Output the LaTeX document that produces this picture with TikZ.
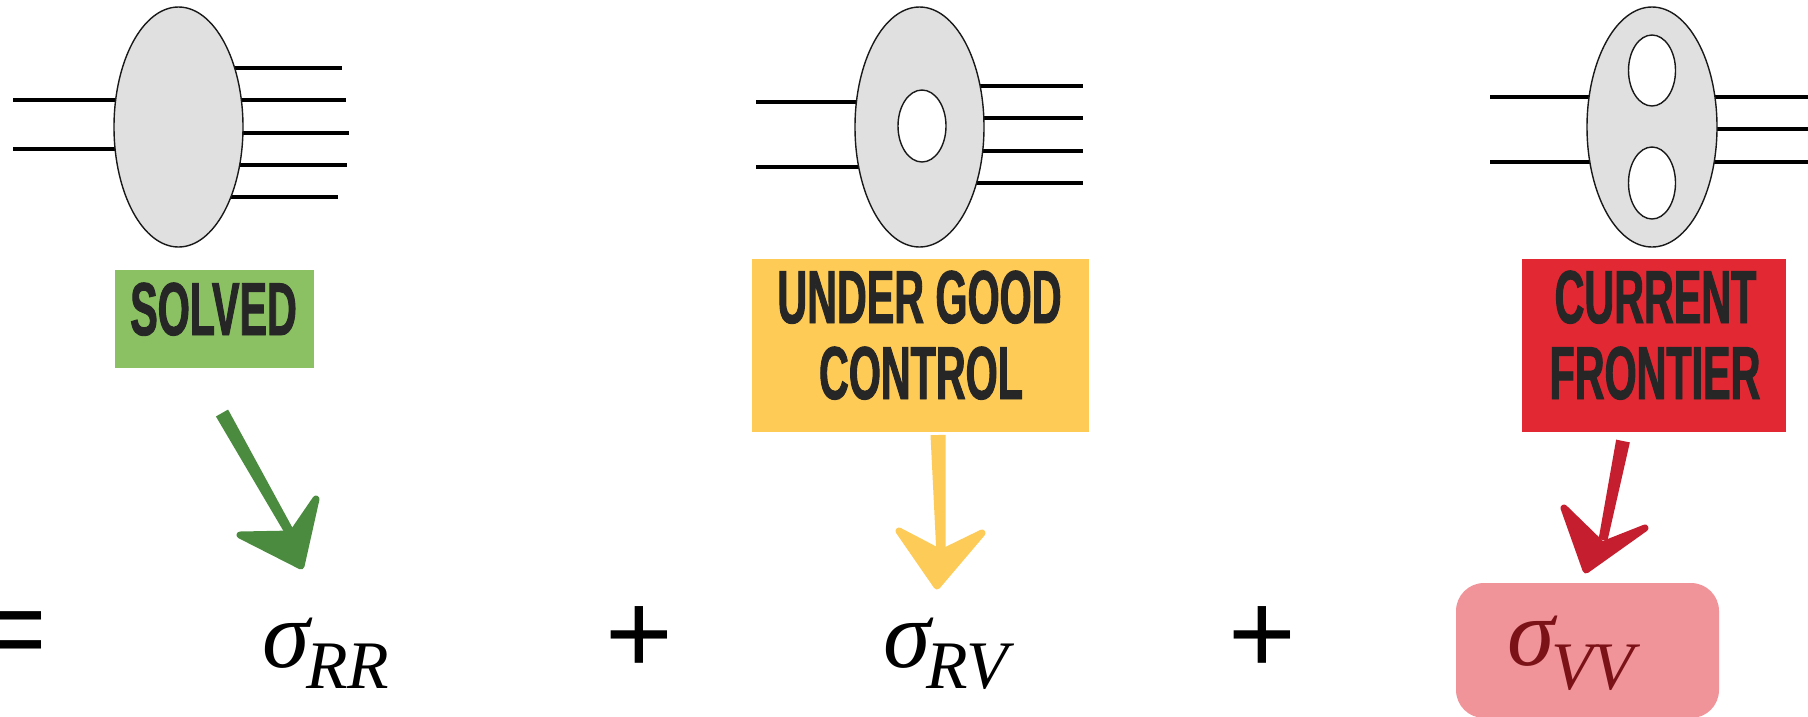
\documentclass[tikz,border=0pt]{standalone}
\usepackage{fontspec}
\setmainfont{Liberation Serif}
\newfontfamily\lblfont{Liberation Sans}[FakeStretch=0.55, FakeBold=1.2]
\newfontfamily\opfont{Liberation Sans}
\usetikzlibrary{shapes.geometric, calc}
\pgfdeclarelayer{bg}
\pgfsetlayers{bg,main}
\definecolor{blobgray}{HTML}{E0E0E0}
\definecolor{tgreen}{HTML}{8BC063}
\definecolor{tyellow}{HTML}{FECB57}
\definecolor{tred}{HTML}{E12833}
\definecolor{agreen}{HTML}{4A8B3F}
\definecolor{ayellow}{HTML}{FDCB57}
\definecolor{ared}{HTML}{C41E2F}
\definecolor{pinkbox}{HTML}{F19499}
\definecolor{darkred}{HTML}{7B1218}
\definecolor{lbltext}{HTML}{262626}
\tikzset{
  wire/.style={line width=3.8pt},
  blob/.style={ellipse, draw=black!90, line width=1.4pt, fill=blobgray, inner sep=0pt, minimum width=129pt, minimum height=240pt},
  hole/.style={ellipse, draw=black!90, line width=1.4pt, fill=white, inner sep=0pt},
  tagbox/.style={rectangle, inner sep=0pt},
  lbl/.style={font=\lblfont\bfseries\fontsize{75}{75}\selectfont, text=lbltext, anchor=base, inner sep=0pt},
  sig/.style={font=\itshape\fontsize{96}{96}\selectfont, anchor=base west, inner sep=0pt},
  subsc/.style={font=\itshape\fontsize{68}{68}\selectfont, anchor=base west, inner sep=0pt},
  op/.style={font=\opfont\fontsize{116}{116}\selectfont, inner sep=0pt},
  arrowhead/.style={line width=7pt, line join=round, line cap=round},
}
\begin{document}
\begin{tikzpicture}[x=1pt, y=-1pt]
\useasboundingbox (0,0) rectangle (1808,716);

% ---- blobs ----
\node[blob] (b1) at (178.5,127) {};
\node[blob] (b2) at (919.5,127) {};
\node[hole, minimum width=48pt, minimum height=72pt] (h2) at (922,126) {};
\node[blob, minimum width=130pt] (b3) at (1652,127) {};
\node[hole, minimum width=47pt, minimum height=71pt] (h3a) at (1652,70.5) {};
\node[hole, minimum width=47pt, minimum height=72pt] (h3b) at (1652,183) {};

\begin{pgfonlayer}{bg}
  % blob 1
  \draw[wire] (b1.center |- 0,100) -- (13,100);
  \draw[wire] (b1.center |- 0,149) -- (13,149);
  \draw[wire] (b1.center |- 0,68) -- (342,68);
  \draw[wire] (b1.center |- 0,100) -- (346,100);
  \draw[wire] (b1.center |- 0,133) -- (349,133);
  \draw[wire] (b1.center |- 0,165) -- (347,165);
  \draw[wire] (b1.center |- 0,197) -- (338,197);
  % blob 2
  \draw[wire] (b2.center |- 0,102) -- (756,102);
  \draw[wire] (b2.center |- 0,167) -- (756,167);
  \draw[wire] (b2.center |- 0,86) -- (1083,86);
  \draw[wire] (b2.center |- 0,118) -- (1083,118);
  \draw[wire] (b2.center |- 0,151) -- (1083,151);
  \draw[wire] (b2.center |- 0,183) -- (1083,183);
  % blob 3
  \draw[wire] (b3.center |- 0,97) -- (1490,97);
  \draw[wire] (b3.center |- 0,162) -- (1490,162);
  \draw[wire] (b3.center |- 0,97) -- (1815,97);
  \draw[wire] (b3.center |- 0,129) -- (1815,129);
  \draw[wire] (b3.center |- 0,162) -- (1815,162);
\end{pgfonlayer}

% ---- tags ----
\node[tagbox, fill=tgreen, minimum width=199pt, minimum height=98pt] (t1) at (214.5,319) {};
\node[tagbox, fill=tyellow, minimum width=337pt, minimum height=173pt] (t2) at (920.5,345.5) {};
\node[tagbox, fill=tred, minimum width=264pt, minimum height=173pt] (t3) at (1654,345.5) {};
\node[lbl] (l1) at (213.5,335) {SOLVED};
\node[lbl] (l2a) at (919.5,323) {UNDER GOOD};
\node[lbl] (l2b) at (921,399) {CONTROL};
\node[lbl] (l3a) at (1655.5,323) {CURRENT};
\node[lbl] (l3b) at (1655,399) {FRONTIER};

% ---- bottom row ----
\node[op] (eq) at (13,640) {=};
\node[op] (p1) at (639,640.5) {+};
\node[op] (p2) at (1262,640.5) {+};

\node[sig] (sRR) at (262,667) {σ};
\node[subsc] (sRRs) at (306,688) {RR};
\node[sig] (sRV) at (883,667) {σ};
\node[subsc] (sRVs) at (926,688) {RV};
\node[rectangle, rounded corners=28pt, fill=pinkbox, minimum width=263pt, minimum height=135pt, inner sep=0pt] (vv) at (1587.5,650.5) {};
\node[sig, text=darkred] (sVV) at (1507,665) {σ};
\node[subsc, text=darkred] (sVVs) at (1551,689) {VV};

% ---- arrows ----
% green
\coordinate (g1) at (222,413); \coordinate (g2) at (294,540);
\fill[agreen] ($(g1)!7pt!90:(g2)$) -- ($(g2)!4.5pt!-90:(g1)$) -- ($(g2)!4.5pt!90:(g1)$) -- ($(g1)!7pt!-90:(g2)$) -- cycle;
\coordinate (gl) at (240,535); \coordinate (gt) at (301,566); \coordinate (gr) at (316,499); \coordinate (gn) at (292,534);
\filldraw[agreen, arrowhead] (gl) -- (gt) -- (gr) -- (gn) -- cycle;
% yellow
\coordinate (y1) at (938,435); \coordinate (y2) at (941,555);
\fill[ayellow] ($(y1)!7.5pt!90:(y2)$) -- ($(y2)!4.5pt!-90:(y1)$) -- ($(y2)!4.5pt!90:(y1)$) -- ($(y1)!7.5pt!-90:(y2)$) -- cycle;
\coordinate (yl) at (899,531); \coordinate (yt) at (937,586); \coordinate (yr) at (982,533); \coordinate (yn) at (941,553);
\filldraw[ayellow, arrowhead] (yl) -- (yt) -- (yr) -- (yn) -- cycle;
% red
\coordinate (r1) at (1623,441); \coordinate (r2) at (1603,540);
\fill[ared] ($(r1)!7pt!90:(r2)$) -- ($(r2)!4.5pt!-90:(r1)$) -- ($(r2)!4.5pt!90:(r1)$) -- ($(r1)!7pt!-90:(r2)$) -- cycle;
\coordinate (rl) at (1564,508); \coordinate (rt) at (1586,570); \coordinate (rr) at (1645,528); \coordinate (rn) at (1602,545);
\filldraw[ared, arrowhead] (rl) -- (rt) -- (rr) -- (rn) -- cycle;
\end{tikzpicture}
\end{document}
